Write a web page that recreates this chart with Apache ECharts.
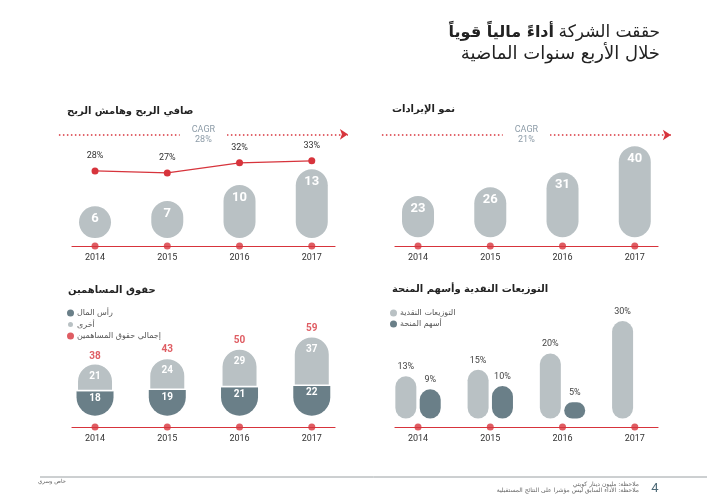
<!DOCTYPE html>
<html>
<head>
<meta charset="utf-8">
<script src="https://cdn.jsdelivr.net/npm/echarts@6/dist/echarts.min.js"></script>
<style>
  html, body { margin: 0; padding: 0; background: #fff; }
  #chart { width: 707px; height: 500px; }
</style>
</head>
<body>
<div id="chart"></div>
<script>
const years = ['2014', '2015', '2016', '2017'];
const netProfit = [6, 7, 10, 13];
const profitMargin = [28, 27, 32, 33];
const revenue = [23, 26, 31, 40];
const shareCapital = [18, 19, 21, 22];
const otherEquity = [21, 24, 29, 37];
const totalEquity = [38, 43, 50, 59];
const cashDividends = [13, 15, 20, 30];
const bonusShares = [9, 10, 5, null];
const cagrProfit = '28%';
const cagrRevenue = '21%';

const RED = '#d7343c';
const LIGHT = '#b9c1c4';
const DARK = '#6a7f88';
const CAGR_COLOR = '#8d9ca8';
const FONT = 'Roboto, "DejaVu Sans", sans-serif';
const AR_FONT = '"DejaVu Sans", sans-serif';

// y ranges per panel, the axis min sits on the red base line
const PROFIT_MIN = -1.5, PROFIT_MAX = 22.3;
const MARGIN_MIN = -9.2, MARGIN_MAX = 53.2;
const REV_MIN = 6, REV_MAX = 48.9, REV_BASE = 9;
const EQ_MIN = -8.4, EQ_MAX = 85.7;
const DIV_MIN = -2.6, DIV_MAX = 36.5;

const panelLeft = [72, 395, 72, 395];
const panelTop = [120, 120, 300, 300];
const panelHeight = [126, 126, 127, 127];
const band = 72.25;

const chart = echarts.init(document.getElementById('chart'));

// main grids hold the categories, line grids only carry the shorter red base line
const grids = [];
panelLeft.forEach((l, i) => grids.push({ left: l - 13.1, top: panelTop[i], width: band * 4, height: panelHeight[i] }));
panelLeft.forEach((l, i) => grids.push({ left: l, top: panelTop[i], width: 263, height: panelHeight[i] }));

const xAxes = [];
for (let i = 0; i < 4; i++) {
  xAxes.push({
    type: 'category', gridIndex: i, data: years,
    axisLine: { show: false }, axisTick: { show: false },
    axisLabel: { color: '#333', fontSize: 9, margin: 7, fontFamily: FONT }
  });
}
for (let i = 0; i < 4; i++) {
  xAxes.push({
    type: 'value', gridIndex: 4 + i, min: 0, max: 1,
    splitLine: { show: false }, axisTick: { show: false }, axisLabel: { show: false },
    axisLine: { show: true, onZero: false, lineStyle: { color: RED, width: 1.2 } }
  });
}

const yAxisFor = (gi, min, max) => ({ type: 'value', gridIndex: gi, min: min, max: max, show: false });
const yAxes = [
  yAxisFor(0, PROFIT_MIN, PROFIT_MAX),
  yAxisFor(0, MARGIN_MIN, MARGIN_MAX),
  yAxisFor(1, REV_MIN, REV_MAX),
  yAxisFor(2, EQ_MIN, EQ_MAX),
  yAxisFor(3, DIV_MIN, DIV_MAX),
  yAxisFor(4, 0, 1), yAxisFor(5, 0, 1), yAxisFor(6, 0, 1), yAxisFor(7, 0, 1)
];

function baseDots(xi, yi, yMin) {
  return {
    type: 'scatter', xAxisIndex: xi, yAxisIndex: yi, silent: true, clip: false,
    symbolSize: 7, itemStyle: { color: RED }, z: 5,
    data: years.map(() => yMin)
  };
}

function cagrLine(value, text) {
  return {
    silent: true,
    symbol: ['none', 'arrow'],
    symbolSize: 8,
    lineStyle: { color: RED, type: [1.5, 2.5], width: 1.5 },
    label: {
      position: 'middle', distance: 0, verticalAlign: 'middle',
      formatter: 'CAGR\n' + text, color: CAGR_COLOR,
      fontSize: 9, lineHeight: 10, backgroundColor: '#fff', padding: [0, 12],
      fontFamily: FONT
    },
    data: [{ yAxis: value }]
  };
}

const sectionTitle = (text, left, top) => ({
  text: text, left: left, top: top, padding: 0,
  textStyle: { fontSize: 10, fontWeight: 'bold', color: '#222', fontFamily: AR_FONT }
});

const legendStyle = {
  orient: 'vertical', icon: 'circle', padding: 0,
  itemWidth: 7, itemHeight: 7, itemGap: 3, selectedMode: false,
  textStyle: { fontSize: 8, color: '#555', fontFamily: AR_FONT, padding: [0, 0, 0, -2] }
};

const options = {
  animation: false,
  textStyle: { fontFamily: FONT },
  title: [
    {
      text: '{b|أداءً مالياً قوياً} {a|حققت الشركة}',
      right: 47, top: 24, padding: 0,
      textStyle: {
        rich: {
          a: { fontSize: 17, color: '#222', fontWeight: 'normal', fontFamily: AR_FONT },
          b: { fontSize: 16, color: '#222', fontWeight: 'bold', fontFamily: AR_FONT }
        }
      }
    },
    {
      text: 'خلال الأربع سنوات الماضية',
      right: 47, top: 45, padding: 0,
      textStyle: { fontSize: 18, fontWeight: 'normal', color: '#222', fontFamily: AR_FONT }
    },
    sectionTitle('صافي الربح وهامش الربح', 67, 106),
    sectionTitle('نمو الإيرادات', 392, 104),
    sectionTitle('حقوق المساهمين', 68, 285),
    sectionTitle('التوزيعات النقدية وأسهم المنحة', 392, 284)
  ],
  legend: [
    Object.assign({ left: 66, top: 309, data: ['رأس المال', 'أخرى', 'إجمالي حقوق المساهمين'] }, legendStyle),
    Object.assign({ left: 390, top: 309, data: ['التوزيعات النقدية', 'أسهم المنحة'] }, legendStyle)
  ],
  grid: grids,
  xAxis: xAxes,
  yAxis: yAxes,
  series: [
    // net profit pills
    {
      name: 'صافي الربح', type: 'bar', xAxisIndex: 0, yAxisIndex: 0,
      barWidth: 32, data: netProfit,
      itemStyle: { color: LIGHT, borderRadius: 16 },
      label: { show: true, position: 'insideTop', distance: 6, color: '#fff', fontSize: 13, fontWeight: 'bold' },
      markLine: cagrLine(19.6, cagrProfit)
    },
    // profit margin line
    {
      name: 'هامش الربح', type: 'line', xAxisIndex: 0, yAxisIndex: 1,
      data: profitMargin, symbol: 'circle', symbolSize: 7,
      itemStyle: { color: RED }, lineStyle: { color: RED, width: 1.2 },
      label: { show: true, position: 'top', distance: 7, color: '#333', fontSize: 9, formatter: '{c}%' }
    },
    baseDots(0, 0, PROFIT_MIN),
    // revenue pills, a transparent base lifts them off the line
    {
      type: 'bar', xAxisIndex: 1, yAxisIndex: 2, stack: 'rev', barWidth: 32, silent: true,
      data: revenue.map(() => REV_BASE),
      itemStyle: { color: 'rgba(0,0,0,0)' }
    },
    {
      name: 'الإيرادات', type: 'bar', xAxisIndex: 1, yAxisIndex: 2, stack: 'rev', barWidth: 32,
      data: revenue.map(v => v - REV_BASE),
      itemStyle: { color: LIGHT, borderRadius: 16 },
      label: { show: true, position: 'insideTop', distance: 6, color: '#fff', fontSize: 13, fontWeight: 'bold',
        formatter: p => revenue[p.dataIndex] },
      markLine: cagrLine(43.8, cagrRevenue)
    },
    baseDots(1, 2, REV_MIN),
    // shareholders' equity
    {
      name: 'رأس المال', type: 'bar', xAxisIndex: 2, yAxisIndex: 3, stack: 'eq', barWidth: 37,
      data: shareCapital,
      itemStyle: { color: DARK, borderRadius: [0, 0, 18.5, 18.5] },
      label: { show: true, position: 'insideTop', distance: 2, color: '#fff', fontSize: 10, fontWeight: 'bold' }
    },
    {
      name: 'أخرى', type: 'bar', xAxisIndex: 2, yAxisIndex: 3, stack: 'eq', barWidth: 37,
      data: otherEquity,
      itemStyle: { color: LIGHT, borderRadius: [18.5, 18.5, 0, 0], borderColor: '#fff', borderWidth: 1.5 },
      label: { show: true, position: 'insideTop', distance: 8, color: '#fff', fontSize: 10, fontWeight: 'bold' }
    },
    {
      name: 'إجمالي حقوق المساهمين', type: 'scatter', xAxisIndex: 2, yAxisIndex: 3,
      data: totalEquity, symbolSize: 0, itemStyle: { color: RED },
      label: { show: true, position: 'top', distance: 3, color: RED, fontSize: 10, fontWeight: 'bold' }
    },
    baseDots(2, 3, EQ_MIN),
    // dividends
    {
      name: 'التوزيعات النقدية', type: 'bar', xAxisIndex: 3, yAxisIndex: 4, barWidth: 21, barGap: '16%',
      data: cashDividends,
      itemStyle: { color: LIGHT, borderRadius: 10.5 },
      label: { show: true, position: 'top', distance: 5, color: '#444', fontSize: 9, formatter: '{c}%' }
    },
    {
      name: 'أسهم المنحة', type: 'bar', xAxisIndex: 3, yAxisIndex: 4, barWidth: 21, barGap: '16%',
      data: bonusShares,
      itemStyle: { color: DARK, borderRadius: 10.5 },
      label: { show: true, position: 'top', distance: 5, color: '#444', fontSize: 9, formatter: '{c}%' }
    },
    baseDots(3, 4, DIV_MIN)
  ],
  graphic: [
    { type: 'line', shape: { x1: 40, y1: 477, x2: 707, y2: 477 }, style: { stroke: '#9aa0a3', lineWidth: 1 }, silent: true },
    { type: 'text', style: { text: 'خاص وسري', x: 66, y: 482, align: 'right', verticalAlign: 'middle', fontSize: 5.5, fill: '#666', fontFamily: AR_FONT } },
    { type: 'text', style: { text: 'ملاحظة: مليون دينار كويتي', x: 639, y: 484, align: 'right', verticalAlign: 'middle', fontSize: 6, fill: '#666', fontFamily: AR_FONT } },
    { type: 'text', style: { text: 'ملاحظة: الأداء السابق ليس مؤشرا على النتائج المستقبلية', x: 639, y: 490, align: 'right', verticalAlign: 'middle', fontSize: 6, fill: '#666', fontFamily: AR_FONT } },
    { type: 'text', style: { text: '4', x: 655, y: 489, align: 'center', verticalAlign: 'middle', fontSize: 13, fill: '#4f6b78', fontFamily: FONT } }
  ]
};

chart.setOption(options);
</script>
</body>
</html>
